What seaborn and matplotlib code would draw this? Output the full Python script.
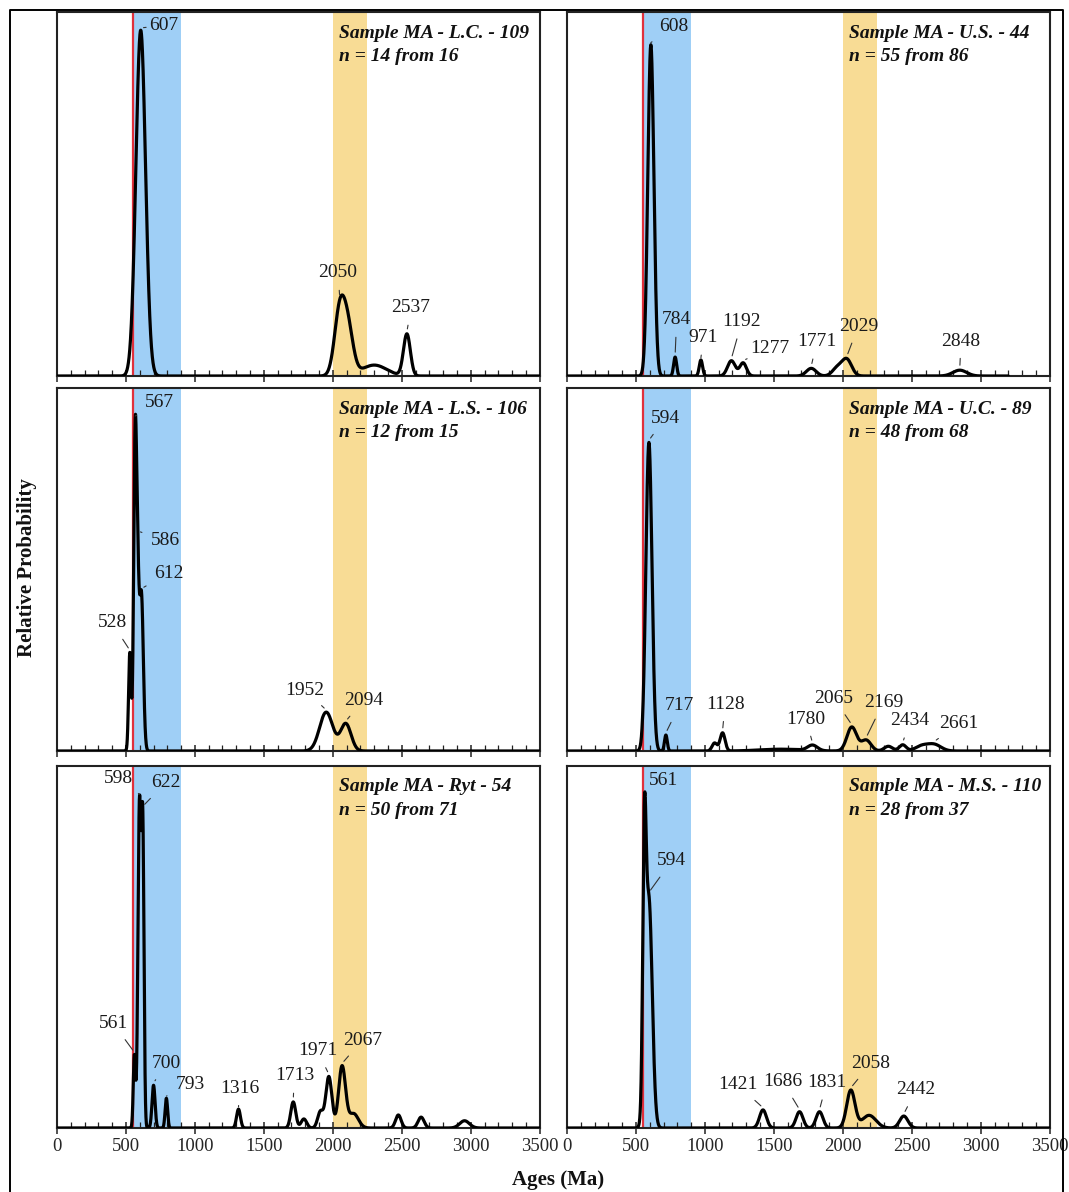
import numpy as np
import pandas as pd
import matplotlib
matplotlib.use("Agg")
import matplotlib.pyplot as plt
from matplotlib.lines import Line2D
from matplotlib.ticker import MultipleLocator
import seaborn as sns

# ---------------------------------------------------------------------------
# Probability-density components for each sample:
# peak age (Ma), relative height, 1-sigma spread (Ma)
# ---------------------------------------------------------------------------
LC109_AGE = [607, 2050, 2110, 2300, 2537]
LC109_HGT = [0.95, 0.175, 0.12, 0.030, 0.115]
LC109_SIG = [35, 38, 38, 90, 25]
LC109_PEAKS = [607, 2050, 2537]

US44_AGE = [608, 784, 971, 1192, 1277, 1771, 1960, 2029, 2848]
US44_HGT = [0.91, 0.052, 0.044, 0.042, 0.036, 0.021, 0.022, 0.045, 0.016]
US44_SIG = [22, 11, 12, 28, 24, 35, 35, 35, 50]
US44_PEAKS = [608, 784, 971, 1192, 1277, 1771, 2029, 2848]

LS106_AGE = [528, 567, 586, 612, 1952, 2094]
LS106_HGT = [0.27, 0.86, 0.33, 0.43, 0.107, 0.075]
LS106_SIG = [9, 11, 10, 14, 48, 38]
LS106_PEAKS = [567, 586, 612, 528, 1952, 2094]

UC89_AGE = [594, 717, 1070, 1128, 1550, 1780, 2065, 2169, 2330, 2434, 2570, 2661]
UC89_HGT = [0.85, 0.044, 0.022, 0.050, 0.005, 0.015, 0.066, 0.030, 0.013, 0.017, 0.013, 0.018]
UC89_SIG = [22, 10, 18, 18, 150, 35, 35, 35, 30, 25, 45, 50]
UC89_PEAKS = [594, 717, 1128, 1780, 2065, 2169, 2434, 2661]

RYT54_AGE = [561, 598, 622, 700, 793, 1316, 1713, 1790, 1910, 1971, 2067, 2150,
             2475, 2640, 2955]
RYT54_HGT = [0.20, 0.893, 0.80, 0.118, 0.082, 0.052, 0.072, 0.025, 0.045, 0.142,
             0.17, 0.04, 0.036, 0.030, 0.020]
RYT54_SIG = [8, 11, 9, 11, 9, 14, 18, 20, 20, 22, 25, 35, 20, 22, 35]
RYT54_PEAKS = [598, 622, 561, 700, 793, 1316, 1713, 1971, 2067]

MS110_AGE = [561, 594, 1421, 1686, 1831, 2058, 2190, 2442]
MS110_HGT = [0.66, 0.63, 0.050, 0.045, 0.045, 0.104, 0.035, 0.033]
MS110_SIG = [12, 24, 25, 25, 25, 30, 50, 30]
MS110_PEAKS = [561, 594, 1421, 1686, 1831, 2058, 2442]

SAMPLE_NAMES = ["Sample MA - L.C. - 109", "Sample MA - U.S. - 44",
                "Sample MA - L.S. - 106", "Sample MA - U.C. - 89",
                "Sample MA - Ryt - 54", "Sample MA - M.S. - 110"]
SAMPLE_COUNTS = ["n = 14 from 16", "n = 55 from 86", "n = 12 from 15",
                 "n = 48 from 68", "n = 50 from 71", "n = 28 from 37"]

# Reference age windows (Ma)
RED_LINE_AGE = 550
BLUE_BAND = (550, 900)
ORANGE_BAND = (2000, 2250)
TICK_AGES = [0, 500, 1000, 1500, 2000, 2500, 3000, 3500]

# ---------------------------------------------------------------------------
# Layout: label anchor positions (age, axes height) for each peak label
# ---------------------------------------------------------------------------
LABEL_POS = [
    [(776, 0.964), (2038, 0.283), (2567, 0.187)],
    [(776, 0.959), (795, 0.154), (988, 0.105), (1267, 0.149), (1472, 0.076),
     (1811, 0.094), (2112, 0.137), (2857, 0.096)],
    [(742, 0.960), (783, 0.579), (812, 0.490), (399, 0.353), (1798, 0.168),
     (2221, 0.140)],
    [(711, 0.917), (814, 0.125), (1146, 0.129), (1733, 0.088), (1936, 0.145),
     (2294, 0.134), (2487, 0.083), (2843, 0.076)],
    [(445, 0.966), (788, 0.954), (408, 0.289), (790, 0.179), (964, 0.119),
     (1327, 0.110), (1721, 0.144), (1890, 0.213), (2214, 0.243)],
    [(703, 0.959), (759, 0.738), (1238, 0.119), (1564, 0.128), (1883, 0.125),
     (2204, 0.179), (2531, 0.105)],
]
CURVE_END = [3500, 3200, 3500, 3500, 3500, 3500]

PANELS = [
    (LC109_AGE, LC109_HGT, LC109_SIG, LC109_PEAKS),
    (US44_AGE, US44_HGT, US44_SIG, US44_PEAKS),
    (LS106_AGE, LS106_HGT, LS106_SIG, LS106_PEAKS),
    (UC89_AGE, UC89_HGT, UC89_SIG, UC89_PEAKS),
    (RYT54_AGE, RYT54_HGT, RYT54_SIG, RYT54_PEAKS),
    (MS110_AGE, MS110_HGT, MS110_SIG, MS110_PEAKS),
]


def density(ages, heights, sigmas, grid):
    a = np.asarray(ages, float)[:, None]
    h = np.asarray(heights, float)[:, None]
    s = np.asarray(sigmas, float)[:, None]
    return (h * np.exp(-0.5 * ((grid[None, :] - a) / s) ** 2)).sum(axis=0)


sns.set_theme(style="white")
plt.rcParams["font.family"] = ["Liberation Serif", "DejaVu Serif"]

W, H = 1069, 1192
fig = plt.figure(figsize=(W / 100, H / 100), dpi=100)

col_left = [57 / W, 567 / W]
col_width = 482.7 / W
row_box = [(376, 364), (751, 363), (1128, 362)]

BLUE = "#9fcff6"
ORANGE = "#f8dc95"
RED = "#e0303c"
INK = "#111111"

for i, (ages, hgts, sigs, peaks) in enumerate(PANELS):
    r, c = divmod(i, 2)
    bottom_px, height_px = row_box[r]
    ax = fig.add_axes([col_left[c], 1 - bottom_px / H, col_width, height_px / H])

    ax.axvspan(*BLUE_BAND, color=BLUE, lw=0, zorder=0)
    ax.axvspan(*ORANGE_BAND, color=ORANGE, lw=0, zorder=0)
    ax.axvline(RED_LINE_AGE, color=RED, lw=1.6, zorder=2)

    grid = np.arange(0, CURVE_END[i] + 0.5, 0.5)
    prob = density(ages, hgts, sigs, grid)
    df = pd.DataFrame({"age": grid, "prob": prob})
    sns.lineplot(data=df, x="age", y="prob", ax=ax, color="black", lw=2.3,
                 zorder=3, estimator=None)

    for age, (tx, ty) in zip(peaks, LABEL_POS[i]):
        py = density(ages, hgts, sigs, np.array([float(age)]))[0]
        ax.annotate(str(age), xy=(age, py + 0.006), xytext=(tx, ty),
                    ha="center", va="center", fontsize=14, color="#1a1a1a",
                    arrowprops=dict(arrowstyle="-", lw=0.8, color="#333333",
                                    shrinkA=4, shrinkB=2),
                    zorder=4)

    trans = ax.get_xaxis_transform()
    ax.text(2045, 0.942, SAMPLE_NAMES[i], transform=trans, ha="left",
            va="center", fontsize=14, fontweight="bold", fontstyle="italic",
            color=INK, zorder=5)
    ax.text(2045, 0.877, SAMPLE_COUNTS[i], transform=trans, ha="left",
            va="center", fontsize=14, fontweight="bold", fontstyle="italic",
            color=INK, zorder=5)

    ax.set_xlim(0, 3500)
    ax.set_ylim(0, 1)
    ax.set_xlabel("")
    ax.set_ylabel("")
    ax.set_yticks([])
    ax.set_xticks(TICK_AGES)
    ax.xaxis.set_minor_locator(MultipleLocator(100))
    ax.tick_params(axis="x", which="major", direction="inout", length=9,
                   width=1.1, color="#222222", labelsize=13.5, pad=3,
                   bottom=True, labelbottom=(r == 2))
    ax.tick_params(axis="x", which="minor", direction="in", length=4,
                   width=0.9, color="#222222", bottom=True)
    for sp in ax.spines.values():
        sp.set_color("#222222")
        sp.set_linewidth(1.5)

fig.text(558 / W, 1 - 1180 / H, "Ages (Ma)", ha="center", va="center",
         fontsize=15, fontweight="bold", color=INK)
fig.text(27 / W, 1 - 568 / H, "Relative Probability", ha="center",
         va="center", rotation=90, fontsize=15, fontweight="bold", color=INK)

# outer frame around the whole figure
x0, x1, y1 = 9.5 / W, 1062.5 / W, 1 - 10 / H
fig.add_artist(Line2D([x0, x0, x1, x1], [0, y1, y1, 0],
                      transform=fig.transFigure, color="black", lw=1.4))

fig.savefig("out.png", dpi=100)
